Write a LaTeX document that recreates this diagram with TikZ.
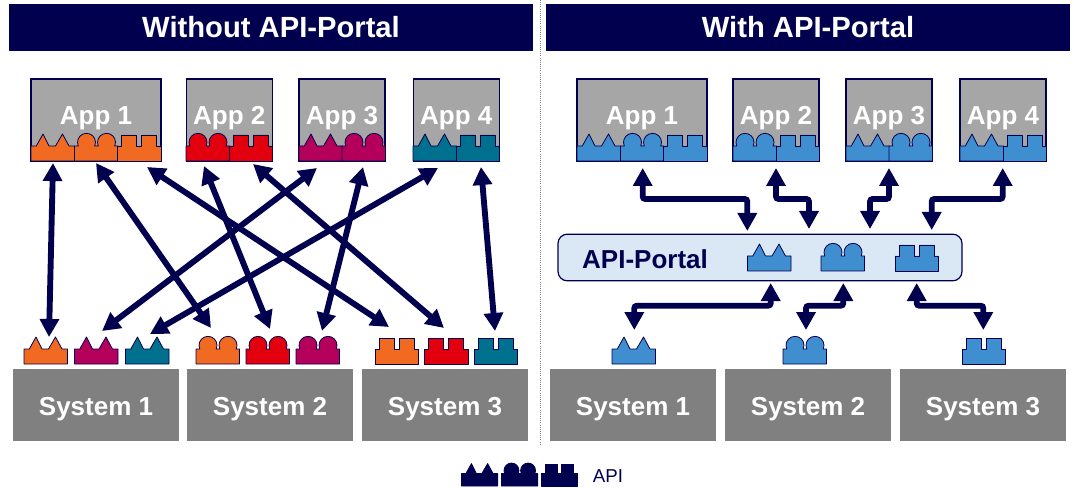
\documentclass[tikz,border=0pt]{standalone}
\usepackage{fontspec}
\setmainfont{Liberation Sans}
\usetikzlibrary{arrows.meta}

\definecolor{navy}{HTML}{00004F}
\definecolor{appgray}{HTML}{A6A6A6}
\definecolor{sysgray}{HTML}{808080}
\definecolor{portalblue}{HTML}{DAE8F5}
\definecolor{apiblue}{HTML}{3F8FD0}
\definecolor{apiorange}{HTML}{F06A22}
\definecolor{apired}{HTML}{E2000F}
\definecolor{apimagenta}{HTML}{B5005B}
\definecolor{apiteal}{HTML}{00708F}

\newcommand{\apitri}[4][1]{\draw[api,fill=#4,shift={(#2,#3)},xscale=#1,yscale=-#1] (0,0) -- (0,15) -- (5.3,15) -- (12,27) -- (18,15) -- (24.5,15) -- (31.5,27) -- (38,15) -- (43.5,15) -- (43.5,0) -- cycle;}
\newcommand{\apiround}[4][1]{\draw[api,fill=#4,shift={(#2,#3)},xscale=#1,yscale=-#1] (0,0) -- (0,15) -- (3.8,15) arc[start angle=204,end angle=-24,radius=9] -- (23.8,15) arc[start angle=204,end angle=-24,radius=9] -- (43.5,15) -- (43.5,0) -- cycle;}
\newcommand{\apisquare}[4][1]{\draw[api,fill=#4,shift={(#2,#3)},xscale=#1,yscale=-#1] (0,0) -- (0,15) -- (4.3,15) -- (4.3,26) -- (19.2,26) -- (19.2,15) -- (24.2,15) -- (24.2,26) -- (39,26) -- (39,15) -- (43.5,15) -- (43.5,0) -- cycle;}

\begin{document}
\begin{tikzpicture}[x=0.75pt,y=-0.75pt]
\tikzstyle{api}=[draw=navy,line width=0.6pt,line join=round]
\tikzstyle{header}=[fill=navy,text=white,font=\fontsize{21.9}{24}\bfseries\selectfont,minimum width=393pt,minimum height=35.25pt,inner sep=0pt]
\tikzstyle{appbox}=[draw=navy,line width=0.9pt,fill=appgray,text=white,font=\fontsize{19.5}{22}\bfseries\selectfont,minimum height=61.5pt,inner sep=0pt,text height=10pt,text depth=3.6pt]
\tikzstyle{wide}=[minimum width=97.5pt]
\tikzstyle{narrow}=[minimum width=64.5pt]
\tikzstyle{sysbox}=[fill=sysgray,text=white,font=\fontsize{19.5}{22}\bfseries\selectfont,minimum width=124.5pt,minimum height=54pt,inner sep=0pt,text height=18pt,text depth=2.6pt]
\tikzstyle{link}=[navy,line width=4.4pt,{Triangle[width=14pt,length=13.5pt]}-{Triangle[width=14pt,length=13.5pt]}]

\useasboundingbox (0,0) rectangle (1074,488);

\node[header] at (271,27.5) (headleft) {Without API-Portal};
\node[header] at (808,27.5) (headright) {With API-Portal};
\draw[gray,densely dotted,line width=0.6pt] (540,0) -- (540,445);

\node[appbox,wide] at (96,120) (app1) {App 1\hspace{1.5pt}};
\node[appbox,narrow] at (229.3,120) (app2) {App 2};
\node[appbox,narrow] at (342,120) (app3) {App 3};
\node[appbox,narrow] at (456.3,120) (app4) {App 4};
\node[appbox,wide] at (642,120) (rapp1) {App 1\hspace{1.5pt}};
\node[appbox,narrow] at (776,120) (rapp2) {App 2};
\node[appbox,narrow] at (889,120) (rapp3) {App 3};
\node[appbox,narrow] at (1003,120) (rapp4) {App 4};

\apitri{31}{161}{apiorange}
\apiround{74.5}{161}{apiorange}
\apisquare{117.5}{161}{apiorange}
\apiround{186}{161}{apired}
\apisquare{229}{161}{apired}
\apitri{299}{161}{apimagenta}
\apiround{342}{161}{apimagenta}
\apitri{413}{161}{apiteal}
\apisquare{456}{161}{apiteal}

\apitri{577}{161}{apiblue}
\apiround{620.5}{161}{apiblue}
\apisquare{663.5}{161}{apiblue}
\apiround{733}{161}{apiblue}
\apisquare{776}{161}{apiblue}
\apitri{846}{161}{apiblue}
\apiround{889}{161}{apiblue}
\apitri{960}{161}{apiblue}
\apisquare{1003}{161}{apiblue}

\node[sysbox] at (96,405) (sys1) {System 1};
\node[sysbox] at (270,405) (sys2) {System 2};
\node[sysbox] at (445,405) (sys3) {System 3};
\node[sysbox] at (633,405) (rsys1) {System 1};
\node[sysbox] at (808,405) (rsys2) {System 2};
\node[sysbox] at (983,405) (rsys3) {System 3};

\apitri{24}{364}{apiorange}
\apitri{74.5}{364}{apimagenta}
\apitri{125.5}{364}{apiteal}
\apiround{196}{364}{apiorange}
\apiround{246}{364}{apired}
\apiround{296}{364}{apimagenta}
\apisquare{375}{364}{apiorange}
\apisquare{424.5}{364}{apired}
\apisquare{474}{364}{apiteal}

\apitri{612}{364}{apiblue}
\apiround{783}{364}{apiblue}
\apisquare{962}{364}{apiblue}

\node[draw=navy,line width=0.9pt,fill=portalblue,rounded corners=7pt,minimum width=303pt,minimum height=35pt,inner sep=0pt] at (760,257.5) (portal) {};
\node[text=navy,font=\fontsize{19.5}{22}\bfseries\selectfont,inner sep=0pt] at (645,259) (portaltext) {API-Portal};
\apitri{747.5}{271}{apiblue}
\apiround{821}{271}{apiblue}
\apisquare{895}{271}{apiblue}

\coordinate (a1) at (53,163);
\coordinate (b1) at (49,337);
\coordinate (a2) at (96,163);
\coordinate (b2) at (211,328);
\coordinate (a3) at (147,167);
\coordinate (b3) at (389,327);
\coordinate (a4) at (204,166);
\coordinate (b4) at (270,329);
\coordinate (a5) at (253,164);
\coordinate (b5) at (444,328);
\coordinate (a6) at (317,168);
\coordinate (b6) at (102,331);
\coordinate (a7) at (363,167);
\coordinate (b7) at (322,331);
\coordinate (a8) at (438,168);
\coordinate (b8) at (150,334);
\coordinate (a9) at (481,167);
\coordinate (b9) at (495,331);

\draw[link] (a1) -- (b1);
\draw[link] (a2) -- (b2);
\draw[link] (a3) -- (b3);
\draw[link] (a4) -- (b4);
\draw[link] (a5) -- (b5);
\draw[link] (a6) -- (b6);
\draw[link] (a7) -- (b7);
\draw[link] (a8) -- (b8);
\draw[link] (a9) -- (b9);

\coordinate (ra1) at (642.7,168);
\coordinate (rm1) at (747.3,199);
\coordinate (rp1) at (747.3,231);
\coordinate (ra2) at (776,168);
\coordinate (rm2) at (809,199);
\coordinate (rp2) at (809,229);
\coordinate (ra3) at (889,168);
\coordinate (rm3) at (870,199);
\coordinate (rp3) at (870,229);
\coordinate (ra4) at (1002.7,168);
\coordinate (rm4) at (931.7,199);
\coordinate (rp4) at (931.7,230);

\draw[link] (ra1) [rounded corners=2pt] |- (rm1) -- (rp1) [sharp corners];
\draw[link] (ra2) [rounded corners=2pt] |- (rm2) -- (rp2) [sharp corners];
\draw[link] (ra3) [rounded corners=2pt] |- (rm3) -- (rp3) [sharp corners];
\draw[link] (ra4) [rounded corners=2pt] |- (rm4) -- (rp4) [sharp corners];

\coordinate (rq1) at (770.7,283);
\coordinate (rn1) at (634.3,305.7);
\coordinate (rs1) at (634.3,330);
\coordinate (rq2) at (843.3,283);
\coordinate (rn2) at (806,305.7);
\coordinate (rs2) at (806,330);
\coordinate (rq3) at (916.7,283);
\coordinate (rn3) at (983.3,305.7);
\coordinate (rs3) at (983.3,330);

\draw[link] (rq1) [rounded corners=2pt] |- (rn1) -- (rs1) [sharp corners];
\draw[link] (rq2) [rounded corners=2pt] |- (rn2) -- (rs2) [sharp corners];
\draw[link] (rq3) [rounded corners=2pt] |- (rn3) -- (rs3) [sharp corners];

\apitri[0.83]{461.5}{486}{navy}
\apiround[0.83]{501.5}{486}{navy}
\apisquare[0.83]{541.5}{486}{navy}
\node[text=navy,font=\fontsize{14}{16}\selectfont,inner sep=0pt] at (608,476) (legend) {API};
\end{tikzpicture}
\end{document}
